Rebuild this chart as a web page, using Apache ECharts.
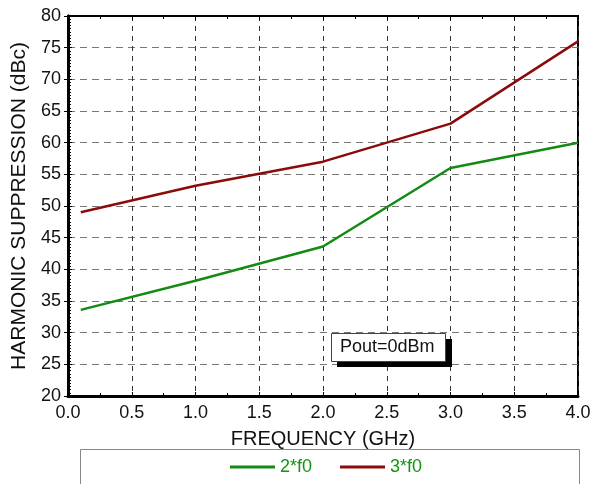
<!DOCTYPE html>
<html><head><meta charset="utf-8">
<script src="https://cdn.jsdelivr.net/npm/echarts@6/dist/echarts.min.js"></script>
<style>html,body{margin:0;padding:0;background:#fff}#c{width:602px;height:484px}</style>
</head><body><div id="c"></div>
<script>
const freq = [0.1, 1.0, 2.0, 3.0, 4.0];
const h2 = [33.6, 38.2, 43.6, 56.0, 60.0];
const h3 = [49.0, 53.2, 57.0, 63.0, 76.0];
const seriesNames = ['2*f0', '3*f0'];
const xName = 'FREQUENCY (GHz)';
const yName = 'HARMONIC SUPPRESSION (dBc)';
const note = 'Pout=0dBm';

const chart = echarts.init(document.getElementById('c'));
const font = 'Liberation Sans, Arial, sans-serif';
const tick = {show: true, inside: true, length: 4, lineStyle: {color: '#000'}};
chart.setOption({
  animation: false,
  backgroundColor: '#fff',
  grid: {left: 68, right: 24, top: 16, bottom: 88, show: true, borderColor: '#000', borderWidth: 2, backgroundColor: 'transparent'},
  xAxis: [{
    type: 'value', min: 0, max: 4, interval: 0.5,
    name: xName, nameLocation: 'middle', nameGap: 33,
    nameTextStyle: {fontFamily: font, fontSize: 20, color: '#111'},
    axisLine: {show: true, lineStyle: {color: '#000', width: 3}},
    axisTick: tick,
    minorTick: {show: true, splitNumber: 2, length: 3, lineStyle: {color: '#000'}},
    axisLabel: {fontFamily: font, fontSize: 18, color: '#111', margin: 8, formatter: v => v.toFixed(1)},
    splitLine: {show: true, lineStyle: {color: '#333', type: [5, 5], width: 1}}
  }, {
    type: 'value', min: 0, max: 4, interval: 0.5, position: 'top',
    axisLine: {show: true, lineStyle: {color: '#000', width: 2}},
    axisTick: tick,
    minorTick: {show: true, splitNumber: 2, length: 3, lineStyle: {color: '#000'}},
    axisLabel: {show: false}, splitLine: {show: false}
  }],
  yAxis: [{
    type: 'value', min: 20, max: 80, interval: 5,
    name: yName, nameLocation: 'middle', nameGap: 31,
    nameTextStyle: {fontFamily: font, fontSize: 21, color: '#111'},
    axisLine: {show: true, lineStyle: {color: '#000', width: 3}},
    axisTick: tick,
    minorTick: {show: true, splitNumber: 10, length: 3, lineStyle: {color: '#000'}},
    axisLabel: {fontFamily: font, fontSize: 18, color: '#111', margin: 7},
    splitLine: {show: true, lineStyle: {color: '#777', type: [7, 5], width: 1}}
  }, {
    type: 'value', min: 20, max: 80, interval: 5, position: 'right',
    axisLine: {show: true, lineStyle: {color: '#000', width: 3}},
    axisTick: tick,
    axisLabel: {show: false}, splitLine: {show: false}
  }],
  legend: {
    top: 453, left: 225, itemWidth: 45, itemHeight: 3, itemGap: 28,
    icon: 'rect',
    textStyle: {fontFamily: font, fontSize: 18, color: '#139413'},
    data: seriesNames
  },
  graphic: [
    {type: 'rect', left: 78, top: 447, shape: {width: 499, height: 45}, style: {fill: 'none', stroke: '#888', lineWidth: 1}, z: -1},
    {type: 'rect', left: 337, top: 339, shape: {width: 115, height: 28}, style: {fill: '#000'}, z: 100},
    {type: 'rect', left: 331, top: 333, shape: {width: 114, height: 28}, style: {fill: '#fff', stroke: '#444', lineWidth: 1}, z: 101},
    {type: 'text', left: 340, top: 338, style: {text: note, fontFamily: font, fontSize: 18, fill: '#111'}, z: 102}
  ],
  series: [
    {name: seriesNames[0], type: 'line', data: freq.map((f, i) => [f, h2[i]]), symbol: 'none', lineStyle: {color: '#138A13', width: 2.5}, itemStyle: {color: '#138A13'}},
    {name: seriesNames[1], type: 'line', data: freq.map((f, i) => [f, h3[i]]), symbol: 'none', lineStyle: {color: '#8B0A0A', width: 2.5}, itemStyle: {color: '#8B0A0A'}}
  ]
});
</script></body></html>
